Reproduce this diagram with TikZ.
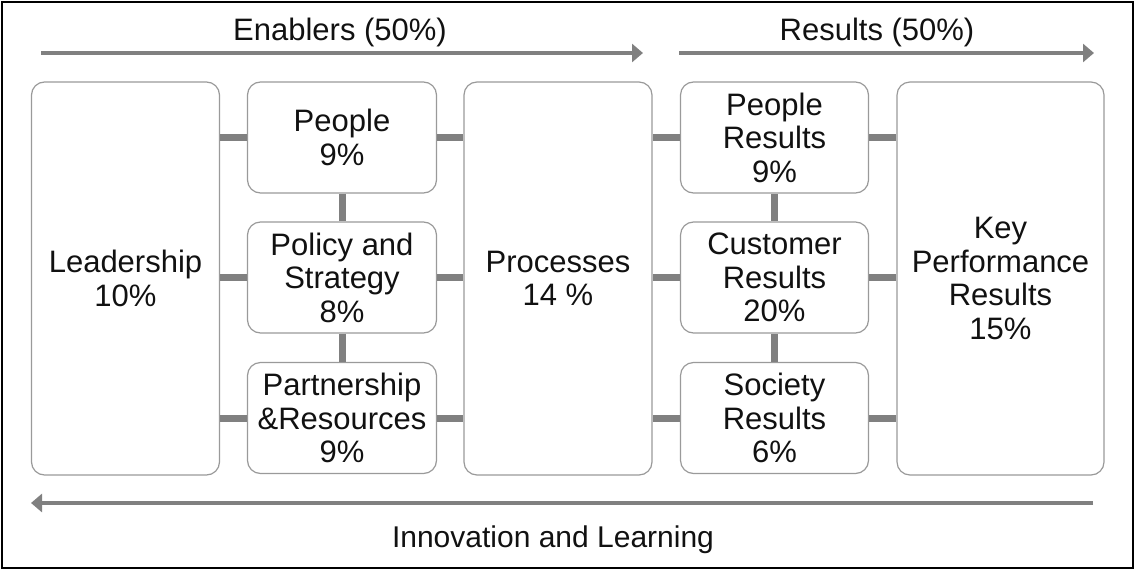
\documentclass[tikz,border=0pt]{standalone}
\usepackage{fontspec}
\setmainfont{Liberation Sans}
\usetikzlibrary{arrows.meta}
\definecolor{conn}{HTML}{808080}
\definecolor{boxline}{HTML}{9A9A9A}
\definecolor{txt}{HTML}{111111}
\begin{document}
\begin{tikzpicture}[x=1pt,y=-1pt,
  lbl/.style={font=\fontsize{31}{34}\selectfont, text=txt, inner sep=0pt},
  card/.style={draw=boxline, line width=1.2pt, rounded corners=13pt, fill=white,
    align=center, font=\fontsize{31}{33.5}\selectfont, text=txt, inner sep=0pt},
  tall/.style={card, minimum width=188pt, minimum height=393pt},
  small/.style={card, minimum width=189pt, minimum height=111pt},
  link/.style={draw=conn, line width=7pt, line cap=butt},
  flow/.style={draw=conn, line width=4pt, -{Triangle[length=11pt,width=18pt]}}
]
\useasboundingbox (0,0) rectangle (1134,570);
\draw[black, line width=2pt] (1.5,2) rectangle (1132.5,568);

% boxes
\node[tall] (lead) at (125.5,278.5) {Leadership\\10\%};
\node[small] (people) at (342,137.5) {People\\9\%};
\node[small] (policy) at (342,277.5) {Policy and\\Strategy\\8\%};
\node[small] (partner) at (342,418) {Partnership\\\&Resources\\9\%};
\node[tall] (proc) at (558,278.5) {Processes\\14 \%};
\node[small, minimum width=188pt] (pres) at (774.5,137.5) {People\\Results\\9\%};
\node[small, minimum width=188pt] (cres) at (774.5,277.5) {Customer\\Results\\20\%};
\node[small, minimum width=188pt] (sres) at (774.5,418) {Society\\Results\\6\%};
\node[tall, minimum width=207pt] (kpr) at (1000.5,278.5) {Key\\Performance\\Results\\15\%};

% connectors
\foreach \b in {people,policy,partner}{
  \draw[link] (\b.west) -- (\b.west -| lead.east);
  \draw[link] (\b.east) -- (\b.east -| proc.west);
}
\foreach \b in {pres,cres,sres}{
  \draw[link] (\b.west) -- (\b.west -| proc.east);
  \draw[link] (\b.east) -- (\b.east -| kpr.west);
}
\draw[link] (people.south) -- (policy.north);
\draw[link] (policy.south) -- (partner.north);
\draw[link] (pres.south) -- (cres.north);
\draw[link] (cres.south) -- (sres.north);

% arrows
\coordinate (es) at (41,53);
\coordinate (ee) at (643,53);
\coordinate (rs) at (679,53);
\coordinate (re) at (1094,53);
\coordinate (bs) at (1093,503);
\coordinate (be) at (31,503);
\draw[flow] (es) -- (ee);
\draw[flow] (rs) -- (re);
\draw[flow] (bs) -- (be);

% labels
\node[lbl, anchor=base] (enab) at (340,40) {Enablers (50\%)};
\node[lbl, anchor=base] (resl) at (877,40) {Results (50\%)};
\node[lbl, anchor=base, font=\fontsize{30}{34}\selectfont] (innov) at (553,547) {Innovation and Learning};
\end{tikzpicture}
\end{document}
